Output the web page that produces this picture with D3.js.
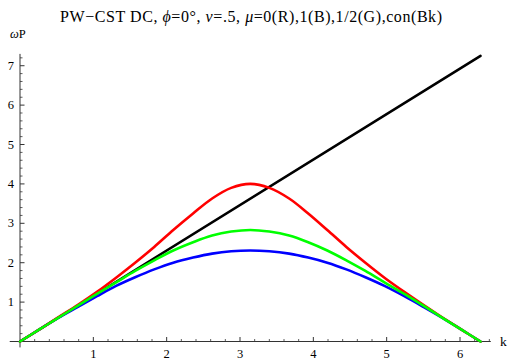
<!DOCTYPE html>
<html>
<head>
<meta charset="utf-8">
<script src="https://cdn.jsdelivr.net/npm/d3@7/dist/d3.min.js"></script>
<style>
  html, body { margin: 0; padding: 0; background: #fff; }
  svg { display: block; }
  text { font-family: "Liberation Serif", "Times New Roman", serif; fill: #000; }
</style>
</head>
<body>
<svg id="chart" width="509" height="360"></svg>
<script>
// Wave number samples (0 … 2π)
const kValues = [0, 0.26, 0.52, 0.79, 1.05, 1.31, 1.57, 1.83, 2.09, 2.36, 2.62, 2.88, 3.14,
                 3.40, 3.67, 3.93, 4.19, 4.45, 4.71, 4.97, 5.24, 5.50, 5.76, 6.02, 6.28];
// ωP for μ = 0 (red)
const redValues = [0, 0.30, 0.61, 0.93, 1.26, 1.62, 2.00, 2.40, 2.83, 3.25, 3.63, 3.90, 4.00,
                   3.90, 3.63, 3.25, 2.83, 2.40, 2.00, 1.62, 1.26, 0.93, 0.61, 0.30, 0];
// ωP for μ = 1/2 (green)
const greenValues = [0, 0.30, 0.60, 0.91, 1.21, 1.50, 1.79, 2.06, 2.31, 2.52, 2.69, 2.79, 2.83,
                     2.79, 2.69, 2.52, 2.31, 2.06, 1.79, 1.50, 1.21, 0.91, 0.60, 0.30, 0];
// ωP for μ = 1 (blue)
const blueValues = [0, 0.30, 0.60, 0.88, 1.15, 1.41, 1.63, 1.83, 2.00, 2.13, 2.23, 2.29, 2.31,
                    2.29, 2.23, 2.13, 2.00, 1.83, 1.63, 1.41, 1.15, 0.88, 0.60, 0.30, 0];
// Continuum line (black)
const contK = [0, 6.28];
const contValues = [0, 7.25];

const xTicks = [1, 2, 3, 4, 5, 6];
const yTicks = [1, 2, 3, 4, 5, 6, 7];

const svg = d3.select("#chart");

const x = d3.scaleLinear().domain([0, 6.42]).range([20, 490.8]);
const y = d3.scaleLinear().domain([0, 7.3]).range([341.5, 53.9]);

const axisColor = "#333";

// Axes lines
svg.append("line")
  .attr("x1", x(-0.14)).attr("x2", x(6.42))
  .attr("y1", y(0)).attr("y2", y(0))
  .attr("stroke", axisColor).attr("stroke-width", 1);
svg.append("line")
  .attr("x1", x(0)).attr("x2", x(0))
  .attr("y1", y(-0.15)).attr("y2", y(7.3))
  .attr("stroke", axisColor).attr("stroke-width", 1);

// Ticks: major every 1, minor every 0.2
const xMinor = d3.range(0.2, 6.41, 0.2).filter(v => Math.abs(v - Math.round(v)) > 1e-6);
const yMinor = d3.range(0.2, 7.29, 0.2).filter(v => Math.abs(v - Math.round(v)) > 1e-6);

svg.append("g").selectAll("line").data(xTicks).join("line")
  .attr("x1", d => x(d)).attr("x2", d => x(d))
  .attr("y1", y(0)).attr("y2", y(0) - 4.5)
  .attr("stroke", axisColor).attr("stroke-width", 1);
svg.append("g").selectAll("line").data(xMinor).join("line")
  .attr("x1", d => x(d)).attr("x2", d => x(d))
  .attr("y1", y(0)).attr("y2", y(0) - 2.5)
  .attr("stroke", axisColor).attr("stroke-width", 0.8);
svg.append("g").selectAll("line").data(yTicks).join("line")
  .attr("x1", x(0)).attr("x2", x(0) + 4.5)
  .attr("y1", d => y(d)).attr("y2", d => y(d))
  .attr("stroke", axisColor).attr("stroke-width", 1);
svg.append("g").selectAll("line").data(yMinor).join("line")
  .attr("x1", x(0)).attr("x2", x(0) + 2.5)
  .attr("y1", d => y(d)).attr("y2", d => y(d))
  .attr("stroke", axisColor).attr("stroke-width", 0.8);

// Tick labels
svg.append("g").selectAll("text").data(xTicks).join("text")
  .attr("x", d => x(d)).attr("y", y(0) + 16)
  .attr("text-anchor", "middle").attr("font-size", 12.5)
  .text(d => d);
svg.append("g").selectAll("text").data(yTicks).join("text")
  .attr("x", x(0) - 6).attr("y", d => y(d) + 4)
  .attr("text-anchor", "end").attr("font-size", 12.5)
  .text(d => d);

// Axis labels
svg.append("text").attr("x", 500).attr("y", y(0) + 4)
  .attr("font-size", 13.5).text("k");
const yl = svg.append("text").attr("x", 10).attr("y", 38).attr("font-size", 12.5);
yl.append("tspan").attr("font-style", "italic").text("ω");
yl.append("tspan").text("P");

// Title
const title = svg.append("text").attr("x", 60).attr("y", 22)
  .attr("font-size", 16)
  .attr("textLength", 382).attr("lengthAdjust", "spacing");
title.append("tspan").text("PW\u2212CST DC,  ");
title.append("tspan").attr("font-style", "italic").text("ϕ");
title.append("tspan").text("=0°, ");
title.append("tspan").attr("font-style", "italic").text("ν");
title.append("tspan").text("=.5, ");
title.append("tspan").attr("font-style", "italic").text("μ");
title.append("tspan").text("=0(R),1(B),1/2(G),con(Bk)");

// Curves
const line = d3.line()
  .x(d => x(d[0])).y(d => y(d[1]))
  .curve(d3.curveCatmullRom.alpha(0.5));

const series = [
  { values: blueValues, color: "#0000ff" },
  { values: redValues, color: "#ff0000" },
  { values: greenValues, color: "#00ff00" }
];

svg.append("path")
  .datum(contK.map((k, i) => [k, contValues[i]]))
  .attr("d", d3.line().x(d => x(d[0])).y(d => y(d[1])))
  .attr("fill", "none").attr("stroke", "#000")
  .attr("stroke-width", 2.6).attr("stroke-linecap", "round");

series.forEach(s => {
  svg.append("path")
    .datum(kValues.map((k, i) => [k, s.values[i]]))
    .attr("d", line)
    .attr("fill", "none").attr("stroke", s.color)
    .attr("stroke-width", 2.6).attr("stroke-linecap", "round")
    .attr("stroke-linejoin", "round");
});
</script>
</body>
</html>
